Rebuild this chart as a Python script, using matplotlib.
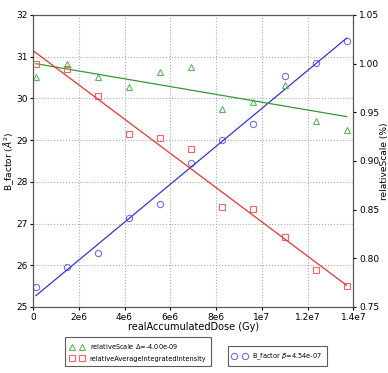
import numpy as np
import matplotlib
matplotlib.use('Agg')
import matplotlib.pyplot as plt
from matplotlib.ticker import FuncFormatter

# values
dose = [1.3e5, 1.49e6, 2.84e6, 4.2e6, 5.56e6, 6.92e6, 8.27e6, 9.63e6, 1.099e7, 1.235e7, 1.37e7]
bfactor = [25.48, 25.95, 26.29, 27.13, 27.48, 28.45, 29.00, 29.39, 30.54, 30.85, 31.38]
rel_scale = [0.986, 0.9996, 0.986, 0.9757, 0.9914, 0.9966, 0.953, 0.961, 0.978, 0.941, 0.9315]
rel_intensity = [0.9996, 0.9942, 0.967, 0.928, 0.9233, 0.912, 0.8524, 0.851, 0.8215, 0.788, 0.7712]

x_ticks = [0, 2e6, 4e6, 6e6, 8e6, 1e7, 1.2e7, 1.4e7]
x_tick_labels = ['0', '2e6', '4e6', '6e6', '8e6', '1e7', '1.2e7', '1.4e7']

dose = np.array(dose)

fig = plt.figure(figsize=(3.88, 3.73), dpi=100)
ax = fig.add_axes([0.085, 0.177, 0.826, 0.783])
ax2 = ax.twinx()

# linear fits
pb = np.polyfit(dose, bfactor, 1)
ps = np.polyfit(dose, rel_scale, 1)
pi = np.polyfit(dose, rel_intensity, 1)

mk = dict(mfc='none', ms=4.5, mew=0.8, ls='none')
h_b, = ax.plot(dose, bfactor, 'o', mec='#6f6fee', label='B_factor $\\beta$=%.2e' % 4.54e-07, **mk)
ax.plot(dose, np.polyval(pb, dose), '-', color='#3333dd', lw=0.9)

h_s, = ax2.plot(dose, rel_scale, '^', mec='#5cb85c',
                label='relativeScale $\\Delta$=%.2e' % -4.00e-09, **mk)
ax2.plot(dose, np.polyval(ps, dose), '-', color='#339933', lw=0.9)

h_i, = ax2.plot(dose, rel_intensity, 's', mec='#ff6060',
                label='relativeAverageIntegratedIntensity', **mk)
xl = np.array([0, dose[-1]])
ax2.plot(xl, np.polyval(pi, xl), '-', color='#ee3333', lw=0.9)

ax.set_xlim(0, 1.4e7)
ax.set_ylim(25, 32)
ax2.set_ylim(0.75, 1.05)
ax.set_xticks(x_ticks)
ax.set_xticklabels(x_tick_labels)
ax2.yaxis.set_major_formatter(FuncFormatter(lambda v, p: '%.2f' % v))

ax.grid(True, linestyle=':', color='#aaaaaa', lw=0.8)
for a in (ax, ax2):
    a.tick_params(labelsize=6.5, direction='out', length=2.5, pad=1.5)
    for s in a.spines.values():
        s.set_color('#555555')

ax.set_xlabel('realAccumulatedDose (Gy)', fontsize=7, labelpad=0)
ax.set_ylabel('B_factor ($\\AA^2$)', fontsize=6.5, labelpad=0)
ax2.set_ylabel('relativeScale (%)', fontsize=6.5, labelpad=0.5)

leg_kw = dict(loc='lower left', numpoints=2, fontsize=4.8, fancybox=False,
              edgecolor='#333333', borderpad=0.7, handlelength=2.2,
              labelspacing=0.7, borderaxespad=0, handletextpad=0.8)
leg1 = fig.legend(handles=[h_s, h_i], bbox_to_anchor=(0.1675, 0.018), **leg_kw)
leg1.get_frame().set_linewidth(0.8)
leg2 = fig.legend(handles=[h_b], bbox_to_anchor=(0.587, 0.018), **leg_kw)
leg2.get_frame().set_linewidth(0.8)

fig.savefig('out.png', dpi=100)
